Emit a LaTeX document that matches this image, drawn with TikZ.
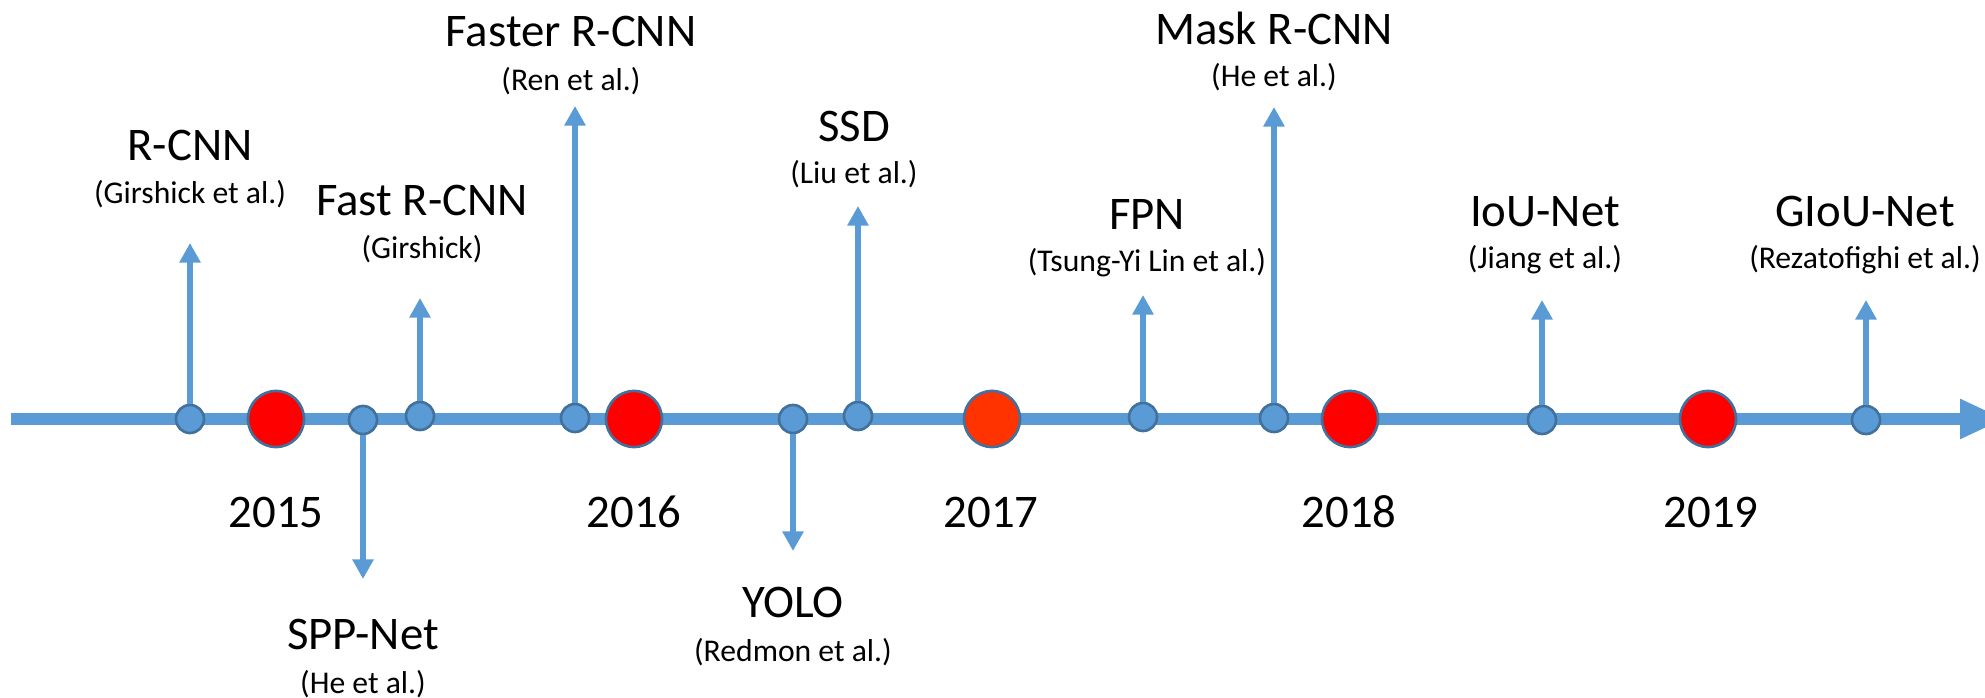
\documentclass[tikz,border=0pt]{standalone}
\usepackage{fontspec}
\setmainfont{Carlito}
\usetikzlibrary{arrows.meta}
\definecolor{lineblue}{HTML}{5B9BD5}
\definecolor{edgeblue}{HTML}{41719C}
\definecolor{yearred}{HTML}{FF0000}
\definecolor{yearorange}{HTML}{FF3300}

\begin{document}
\begin{tikzpicture}[
    x=0.01cm, y=-0.01cm, % one unit per pixel, y runs downwards
    timeline/.style={lineblue, line width=3.4pt, -{Triangle[length=12.8pt, width=10.5pt]}}, % Main axis
    branch/.style={lineblue, line width=1.7pt, -{Triangle[length=5.6pt, width=5.8pt]}},  % Event arrows
    eventdot/.style={circle, fill=lineblue, draw=edgeblue, line width=0.75pt, minimum size=0.28cm, inner sep=0pt},
    yeardot/.style={circle, fill=yearred, draw=edgeblue, line width=0.75pt, minimum size=0.56cm, inner sep=0pt},
    method/.style={anchor=base, inner sep=0pt, font=\fontsize{13.3}{16}\selectfont}, % Method names and years
    cite/.style={anchor=base, inner sep=0pt, font=\fontsize{9}{11}\selectfont}       % Authors
]
    \useasboundingbox (0,0) rectangle (1985,698);

    % Axis end points (the tip runs past the right edge)
    \coordinate (AxStart) at (11, 419);
    \coordinate (AxEnd) at (2005, 419);
    \draw[timeline] (AxStart) -- (AxEnd);

    % Year markers
    \node[yeardot] (Y15) at (276, 419) {};
    \node[yeardot] (Y16) at (634, 419) {};
    \node[yeardot, fill=yearorange] (Y17) at (992, 419) {};
    \node[yeardot] (Y18) at (1350, 419) {};
    \node[yeardot] (Y19) at (1708, 419) {};

    \node[method] (L15) at (276, 528) {2015};
    \node[method] (L16) at (634, 528) {2016};
    \node[method] (L17) at (991, 528) {2017};
    \node[method] (L18) at (1349, 528) {2018};
    \node[method] (L19) at (1711, 528) {2019};

    % Event dots on the axis
    \node[eventdot] (RCNN) at (190, 419) {};
    \node[eventdot] (SPP) at (363, 420) {};
    \node[eventdot] (Fast) at (420, 416) {};
    \node[eventdot] (Faster) at (575, 418) {};
    \node[eventdot] (YOLO) at (793, 419) {};
    \node[eventdot] (SSD) at (858, 416) {};
    \node[eventdot] (FPN) at (1143, 417) {};
    \node[eventdot] (Mask) at (1274, 418) {};
    \node[eventdot] (IoU) at (1542, 420) {};
    \node[eventdot] (GIoU) at (1866, 420) {};

    % Arrow tips
    \coordinate (RCNNtip) at (190, 243);
    \coordinate (SPPtip) at (363, 579);
    \coordinate (Fasttip) at (420, 298);
    \coordinate (Fastertip) at (575, 106);
    \coordinate (YOLOtip) at (793, 551);
    \coordinate (SSDtip) at (858, 206);
    \coordinate (FPNtip) at (1143, 295);
    \coordinate (Masktip) at (1274, 107);
    \coordinate (IoUtip) at (1542, 300);
    \coordinate (GIoUtip) at (1866, 300);

    \draw[branch] (RCNN) -- (RCNNtip);
    \draw[branch] (SPP) -- (SPPtip);
    \draw[branch] (Fast) -- (Fasttip);
    \draw[branch] (Faster) -- (Fastertip);
    \draw[branch] (YOLO) -- (YOLOtip);
    \draw[branch] (SSD) -- (SSDtip);
    \draw[branch] (FPN) -- (FPNtip);
    \draw[branch] (Mask) -- (Masktip);
    \draw[branch] (IoU) -- (IoUtip);
    \draw[branch] (GIoU) -- (GIoUtip);

    % Labels above the axis
    \node[method] (RCNNname) at (190, 161) {R-CNN};
    \node[cite] (RCNNcite) at (190, 204) {(Girshick et al.)};
    \node[method] (Fastname) at (422, 216) {Fast R-CNN};
    \node[cite] (Fastcite) at (422, 259) {(Girshick)};
    \node[method] (Fastername) at (571, 47) {Faster R-CNN};
    \node[cite] (Fastercite) at (571, 91) {(Ren et al.)};
    \node[method] (SSDname) at (854, 142) {SSD};
    \node[cite] (SSDcite) at (854, 184) {(Liu et al.)};
    \node[method] (FPNname) at (1147, 230) {FPN};
    \node[cite] (FPNcite) at (1147, 272) {(Tsung-Yi Lin et al.)};
    \node[method] (Maskname) at (1274, 45) {Mask R-CNN};
    \node[cite] (Maskcite) at (1274, 87) {(He et al.)};
    \node[method] (IoUname) at (1545, 227) {IoU-Net};
    \node[cite] (IoUcite) at (1545, 269) {(Jiang et al.)};
    \node[method] (GIoUname) at (1865, 227) {GIoU-Net};
    \node[cite] (GIoUcite) at (1865, 269) {(Rezatofighi et al.)};

    % Labels below the axis
    \node[method] (SPPname) at (363, 650) {SPP-Net};
    \node[cite] (SPPcite) at (363, 694) {(He et al.)};
    \node[method] (YOLOname) at (793, 618) {YOLO};
    \node[cite] (YOLOcite) at (793, 662) {(Redmon et al.)};

\end{tikzpicture}
\end{document}
